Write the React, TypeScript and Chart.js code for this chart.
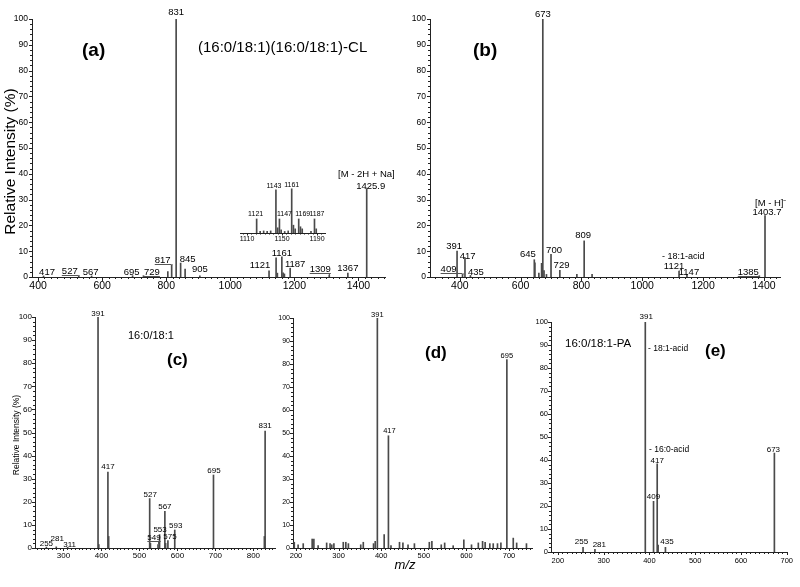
import React, { useEffect, useRef } from 'react';
import { Chart, registerables } from 'chart.js';

Chart.register(...registerables);

const FONT = '"Liberation Sans", Arial, Helvetica, sans-serif';
const AXIS = '#222';
const BAR = '#4a4a4a';

// ---------- Panel (a): (16:0/18:1)(16:0/18:1)-CL ----------
const mzA = [417, 527, 567, 695, 729, 805, 817, 831, 845, 859, 905, 1121, 1143, 1147, 1161, 1165, 1169, 1187, 1309, 1367, 1425.9];
const intA = [0.4, 0.4, 0.4, 0.5, 0.5, 2.1, 4.6, 100, 5.4, 3.1, 0.5, 2.4, 7.4, 1.5, 7.8, 1.6, 1.2, 3.4, 0.8, 1.5, 34.3];
const labelsA = [417, 527, 567, 695, 729, 817, 831, 845, 905, 1121, 1161, 1187, 1309, 1367, 1425.9];
const leadersA = [527, 729, 817, 1309];
const ticksA = [400, 600, 800, 1000, 1200, 1400];

// ---------- Inset of (a) ----------
const mzI = [1121, 1125, 1129, 1133, 1137, 1143, 1145, 1147, 1149, 1153, 1157, 1161, 1163, 1165, 1169, 1171, 1173, 1183, 1187, 1189];
const intI = [27, 3, 4, 3, 4, 83, 10, 27, 6, 3, 4, 85, 15, 8, 27, 12, 8, 3, 27, 8];
const labelsI = [1121, 1143, 1147, 1161, 1169, 1187];
const ticksI = [1110, 1150, 1190];

// ---------- Panel (b) ----------
const mzB = [391, 409, 417, 435, 645, 647, 660, 669, 673, 677, 685, 700, 729, 785, 809, 835, 1121, 1147, 1385, 1403.7];
const intB = [10, 1, 7.5, 0.6, 6.7, 5.5, 1.5, 5.3, 100, 2.5, 1, 8.8, 2.6, 1, 14, 1, 2.3, 1, 0.5, 23.8];
const labelsB = [391, 409, 417, 435, 645, 673, 700, 729, 809, 1121, 1147, 1385, 1403.7];
const leadersB = [409, 1385];
const ticksB = [400, 600, 800, 1000, 1200, 1400];

// ---------- Panel (c): 16:0/18:1 ----------
const mzC = [255, 281, 311, 391, 393, 417, 419, 527, 529, 549, 553, 567, 569, 575, 593, 695, 829, 831];
const intC = [0.4, 0.5, 0.3, 100, 1.5, 32.9, 5, 21.4, 2, 1.5, 5.8, 15.9, 2, 3.2, 7.8, 31.6, 5, 50.6];
const labelsC = [255, 281, 311, 391, 417, 527, 549, 553, 567, 575, 593, 695, 831];
const leadersC = [549];
const ticksC = [300, 400, 500, 600, 700, 800];

// ---------- Panel (d) ----------
const mzD = [196, 205, 217, 238, 242, 252, 272, 280, 284, 289, 311, 317, 323, 352, 358, 382, 386, 391, 407, 417, 423, 443, 451, 463, 478, 513, 519, 541, 549, 569, 594, 612, 628, 638, 644, 655, 663, 673, 681, 695, 710, 718, 741];
const intD = [2.5, 1.4, 1.9, 3.9, 3.9, 1, 2.2, 1.9, 1.4, 1.9, 2.5, 2.5, 1.9, 1.4, 2.5, 1.9, 2.9, 100, 5.8, 48.8, 1, 2.5, 2.2, 1.4, 1.9, 2.5, 2.9, 1.4, 2.2, 1, 3.6, 1.4, 2.2, 2.9, 2.5, 1.9, 1.9, 1.9, 2.2, 81.9, 4.3, 2.2, 1.9];
const labelsD = [391, 417, 695];
const ticksD = [200, 300, 400, 500, 600, 700];

// ---------- Panel (e): 16:0/18:1-PA ----------
const mzE = [255, 281, 391, 409, 417, 419, 435, 673];
const intE = [2, 1.2, 100, 22, 38.3, 3, 2, 43];
const labelsE = [255, 281, 391, 409, 417, 435, 673];
const ticksE = [200, 300, 400, 500, 600, 700];

type Txt = {
  t: string; x: number; y: number; size: number;
  bold?: boolean; italic?: boolean; rot?: boolean;
  align?: CanvasTextAlign; base?: CanvasTextBaseline;
};

type PanelCfg = {
  key: string;
  box: [number, number, number, number];
  yW: number; xH: number; pad: { top: number; right: number; left: number };
  xMin: number; xMax: number; xTicks: number[]; xMinor: number;
  xMaj: number; xMin2: number;
  showY: boolean; yMinor: number;
  mz: number[]; inten: number[]; labels: number[]; leaders: number[];
  nudge: Record<string, number[]>;
  fx: number; fy: number; fl: number; xPad: number; yPad: number;
  texts: Txt[];
};

const panels: PanelCfg[] = [
  {
    key: 'a', box: [0, 0, 395, 295], yW: 32, xH: 18, pad: { top: 19, right: 10, left: 0 },
    xMin: 381, xMax: 1483, xTicks: ticksA, xMinor: 20, xMaj: 4, xMin2: 2,
    showY: true, yMinor: 2,
    mz: mzA, inten: intA, labels: labelsA, leaders: leadersA,
    nudge: { '417': [3.5, -1], '527': [-9, -1.5], '567': [-1, -1], '695': [-1, -1], '729': [8.5, -0.5], '817': [-9, -2], '831': [0, -4], '845': [7, -1], '905': [0, -4], '1121': [-9, -3], '1161': [0, -1], '1187': [5, -1], '1309': [-9, -2.5], '1367': [0, -2], '1425.9': [4, 0] },
    fx: 10.5, fy: 8.5, fl: 9.5, xPad: 3, yPad: 4,
    texts: [
      { t: '(a)', x: 82, y: 56, size: 19, bold: true },
      { t: '(16:0/18:1)(16:0/18:1)-CL', x: 198, y: 52, size: 15 },
      { t: '[M - 2H + Na]\u207B', x: 338, y: 177, size: 9.5 },
      { t: 'Relative Intensity (%)', x: 10.5, y: 161.5, size: 15.5, rot: true, align: 'center', base: 'middle' },
    ],
  },
  {
    key: 'b', box: [400, 0, 395, 295], yW: 30, xH: 18, pad: { top: 19, right: 15, left: 0 },
    xMin: 302, xMax: 1453, xTicks: ticksB, xMinor: 20, xMaj: 4, xMin2: 2,
    showY: true, yMinor: 2,
    mz: mzB, inten: intB, labels: labelsB, leaders: leadersB,
    nudge: { '391': [-3, -2], '409': [-14, -2.5], '417': [2.6, 1.5], '435': [5.5, -0.5], '645': [-6.5, -2.7], '673': [0, -2.3], '700': [3, -1], '729': [1.7, -2], '809': [-1, -3], '1121': [-5, -2], '1147': [2, 0.6], '1385': [-11, -1], '1403.7': [2, -0.5] },
    fx: 10.5, fy: 8.5, fl: 9.5, xPad: 3, yPad: 4,
    texts: [
      { t: '(b)', x: 473, y: 56, size: 19, bold: true },
      { t: '[M - H]\u207B', x: 755, y: 206, size: 9.5 },
      { t: '- 18:1-acid', x: 662, y: 259, size: 9 },
    ],
  },
  {
    key: 'c', box: [0, 300, 285, 264], yW: 35, xH: 16, pad: { top: 17, right: 10, left: 0 },
    xMin: 225, xMax: 857, xTicks: ticksC, xMinor: 10, xMaj: 3, xMin2: 2,
    showY: true, yMinor: 2,
    mz: mzC, inten: intC, labels: labelsC, leaders: leadersC,
    nudge: { '255': [0, -1], '281': [1, -6], '311': [2, -0.5], '391': [0, -1], '417': [0, -3], '527': [0.5, -2], '549': [-4, -5], '553': [0.5, -2.6], '567': [0, -2], '575': [2, -1.5], '593': [1, -2], '695': [0.5, -2], '831': [0, -3] },
    fx: 8, fy: 8, fl: 8, xPad: 3, yPad: 3,
    texts: [
      { t: '16:0/18:1', x: 128, y: 339, size: 11 },
      { t: '(c)', x: 167, y: 364.5, size: 17, bold: true },
      { t: 'Relative Intensity (%)', x: 16.3, y: 435, size: 8.5, rot: true, align: 'center', base: 'middle' },
    ],
  },
  {
    key: 'd', box: [265, 300, 275, 280], yW: 28, xH: 32, pad: { top: 18, right: 8, left: 0 },
    xMin: 193, xMax: 754, xTicks: ticksD, xMinor: 10, xMaj: 3, xMin2: 2,
    showY: true, yMinor: 2,
    mz: mzD, inten: intD, labels: labelsD, leaders: [],
    nudge: { '391': [0, -1], '417': [1, -2.5], '695': [0, -1.5] },
    fx: 7.5, fy: 7, fl: 7.5, xPad: 3, yPad: 3,
    texts: [
      { t: '(d)', x: 425, y: 358, size: 17, bold: true },
      { t: 'm/z', x: 405, y: 569, size: 13, italic: true, align: 'center' },
    ],
  },
  {
    key: 'e', box: [525, 300, 272, 268], yW: 26, xH: 16, pad: { top: 22, right: 10, left: 0 },
    xMin: 185, xMax: 700, xTicks: ticksE, xMinor: 10, xMaj: 3, xMin2: 2,
    showY: true, yMinor: 2,
    mz: mzE, inten: intE, labels: labelsE, leaders: [],
    nudge: { '255': [-1.5, -3], '281': [4.4, -2], '391': [1, -3], '409': [0, -2.4], '417': [0, -1], '435': [1.5, -3.5], '673': [-1, -1.4] },
    fx: 7.5, fy: 7.5, fl: 8, xPad: 4, yPad: 3,
    texts: [
      { t: '16:0/18:1-PA', x: 565, y: 346.7, size: 11.5 },
      { t: '(e)', x: 705, y: 356, size: 17, bold: true },
      { t: '- 18:1-acid', x: 648, y: 351, size: 8.5 },
      { t: '- 16:0-acid', x: 649, y: 451.5, size: 8.5 },
    ],
  },
  {
    key: 'inset', box: [235, 170, 95, 75], yW: 0, xH: 12, pad: { top: 11, right: 5, left: 5 },
    xMin: 1102, xMax: 1199, xTicks: ticksI, xMinor: 5, xMaj: 2.5, xMin2: 1.5,
    showY: false, yMinor: 2,
    mz: mzI, inten: intI, labels: labelsI, leaders: [],
    nudge: { '1121': [-1, -2.5], '1143': [-2, -1.5], '1147': [5, -2.5], '1161': [0, -1.5], '1169': [4, -2.5], '1187': [2.5, -2.5] },
    fx: 7, fy: 7, fl: 7, xPad: 2, yPad: 2,
    texts: [],
  },
];

function buildConfig(p: PanelCfg): any {
  const [bx, by] = p.box;
  const plugin = {
    id: 'spectrum_' + p.key,
    afterDraw(chart: any) {
      const ctx: CanvasRenderingContext2D = chart.ctx;
      const a = chart.chartArea;
      const xs = chart.scales.x;
      const ys = chart.scales.y;
      ctx.save();
      // axis tick marks (major + minor)
      ctx.strokeStyle = AXIS;
      ctx.lineWidth = 1;
      ctx.beginPath();
      const n0 = Math.ceil(p.xMin / p.xMinor);
      const n1 = Math.floor(p.xMax / p.xMinor);
      for (let n = n0; n <= n1; n++) {
        const v = n * p.xMinor;
        const px = Math.round(xs.getPixelForValue(v)) + 0.5;
        const len = p.xTicks.includes(v) ? p.xMaj : p.xMin2;
        ctx.moveTo(px, a.bottom);
        ctx.lineTo(px, a.bottom + len);
      }
      if (p.showY) {
        for (let n = 0; n <= 100 / p.yMinor; n++) {
          const v = n * p.yMinor;
          const py = Math.round(ys.getPixelForValue(v)) + 0.5;
          const len = v % 10 === 0 ? 3 : 2;
          ctx.moveTo(a.left, py);
          ctx.lineTo(a.left - len, py);
        }
      }
      ctx.stroke();
      // peak labels
      ctx.fillStyle = '#000';
      ctx.textAlign = 'center';
      ctx.textBaseline = 'alphabetic';
      ctx.font = `${p.fl}px ${FONT}`;
      p.labels.forEach((m) => {
        const i = p.mz.indexOf(m);
        if (i < 0) return;
        const nd = p.nudge[String(m)] || [0, -1];
        const px = xs.getPixelForValue(m);
        const top = ys.getPixelForValue(p.inten[i]);
        const lx = px + nd[0];
        const ly = top + nd[1];
        ctx.fillText(String(m), lx, ly);
        if (p.leaders.includes(m)) {
          const w = ctx.measureText(String(m)).width;
          const y = Math.round(ly + 1) + 0.5;
          const x0 = Math.min(lx - w / 2, px);
          const x1 = Math.max(lx + w / 2, px);
          ctx.save();
          ctx.strokeStyle = '#555';
          ctx.beginPath();
          ctx.moveTo(x0, y);
          ctx.lineTo(x1, y);
          if (top > y) {
            const vx = Math.round(px) + 0.5;
            ctx.moveTo(vx, y);
            ctx.lineTo(vx, top);
          }
          ctx.stroke();
          ctx.restore();
        }
      });
      // free texts
      p.texts.forEach((t) => {
        ctx.save();
        ctx.font = `${t.italic ? 'italic ' : ''}${t.bold ? 'bold ' : ''}${t.size}px ${FONT}`;
        ctx.textAlign = t.align || 'left';
        ctx.textBaseline = t.base || 'alphabetic';
        ctx.translate(t.x - bx, t.y - by);
        if (t.rot) ctx.rotate(-Math.PI / 2);
        ctx.fillText(t.t, 0, 0);
        ctx.restore();
      });
      ctx.restore();
    },
  };

  return {
    type: 'bar',
    data: {
      datasets: [
        {
          data: p.mz.map((m, i) => ({ x: m, y: p.inten[i] })),
          backgroundColor: BAR,
          borderWidth: 0,
          barThickness: 1,
        },
      ],
    },
    options: {
      responsive: false,
      animation: false,
      devicePixelRatio: 1,
      events: [],
      layout: { padding: { top: p.pad.top, right: p.pad.right, left: p.pad.left, bottom: 0 } },
      plugins: { legend: { display: false }, tooltip: { enabled: false } },
      scales: {
        x: {
          type: 'linear',
          min: p.xMin,
          max: p.xMax,
          offset: false,
          afterBuildTicks: (s: any) => {
            s.ticks = p.xTicks.map((v) => ({ value: v }));
          },
          afterFit: (s: any) => {
            s.height = p.xH;
          },
          ticks: {
            autoSkip: false,
            maxRotation: 0,
            minRotation: 0,
            padding: p.xPad,
            color: '#000',
            font: { family: FONT, size: p.fx },
            callback: (v: any) => String(v),
          },
          grid: { display: false, drawTicks: false, offset: false },
          border: { display: true, color: AXIS, width: 1 },
        },
        y: {
          display: p.showY,
          min: 0,
          max: 100,
          afterFit: (s: any) => {
            s.width = p.yW;
          },
          ticks: {
            stepSize: 10,
            padding: p.yPad,
            color: '#000',
            font: { family: FONT, size: p.fy },
            callback: (v: any) => String(v),
          },
          grid: { display: false, drawTicks: false },
          border: { display: true, color: AXIS, width: 1 },
        },
      },
    },
    plugins: [plugin],
  };
}

function SpectrumPanel({ cfg }: { cfg: PanelCfg }) {
  const ref = useRef<HTMLCanvasElement | null>(null);
  useEffect(() => {
    if (!ref.current) return;
    const chart = new Chart(ref.current, buildConfig(cfg));
    return () => chart.destroy();
  }, [cfg]);
  const [x, y, w, h] = cfg.box;
  return (
    <canvas
      ref={ref}
      width={w}
      height={h}
      style={{ position: 'absolute', left: x, top: y, width: w, height: h }}
    />
  );
}

export default function App() {
  return (
    <div
      style={{
        position: 'absolute',
        left: 0,
        top: 0,
        width: 800,
        height: 587,
        background: '#fff',
        overflow: 'hidden',
      }}
    >
      {panels.map((p) => (
        <SpectrumPanel key={p.key} cfg={p} />
      ))}
    </div>
  );
}
